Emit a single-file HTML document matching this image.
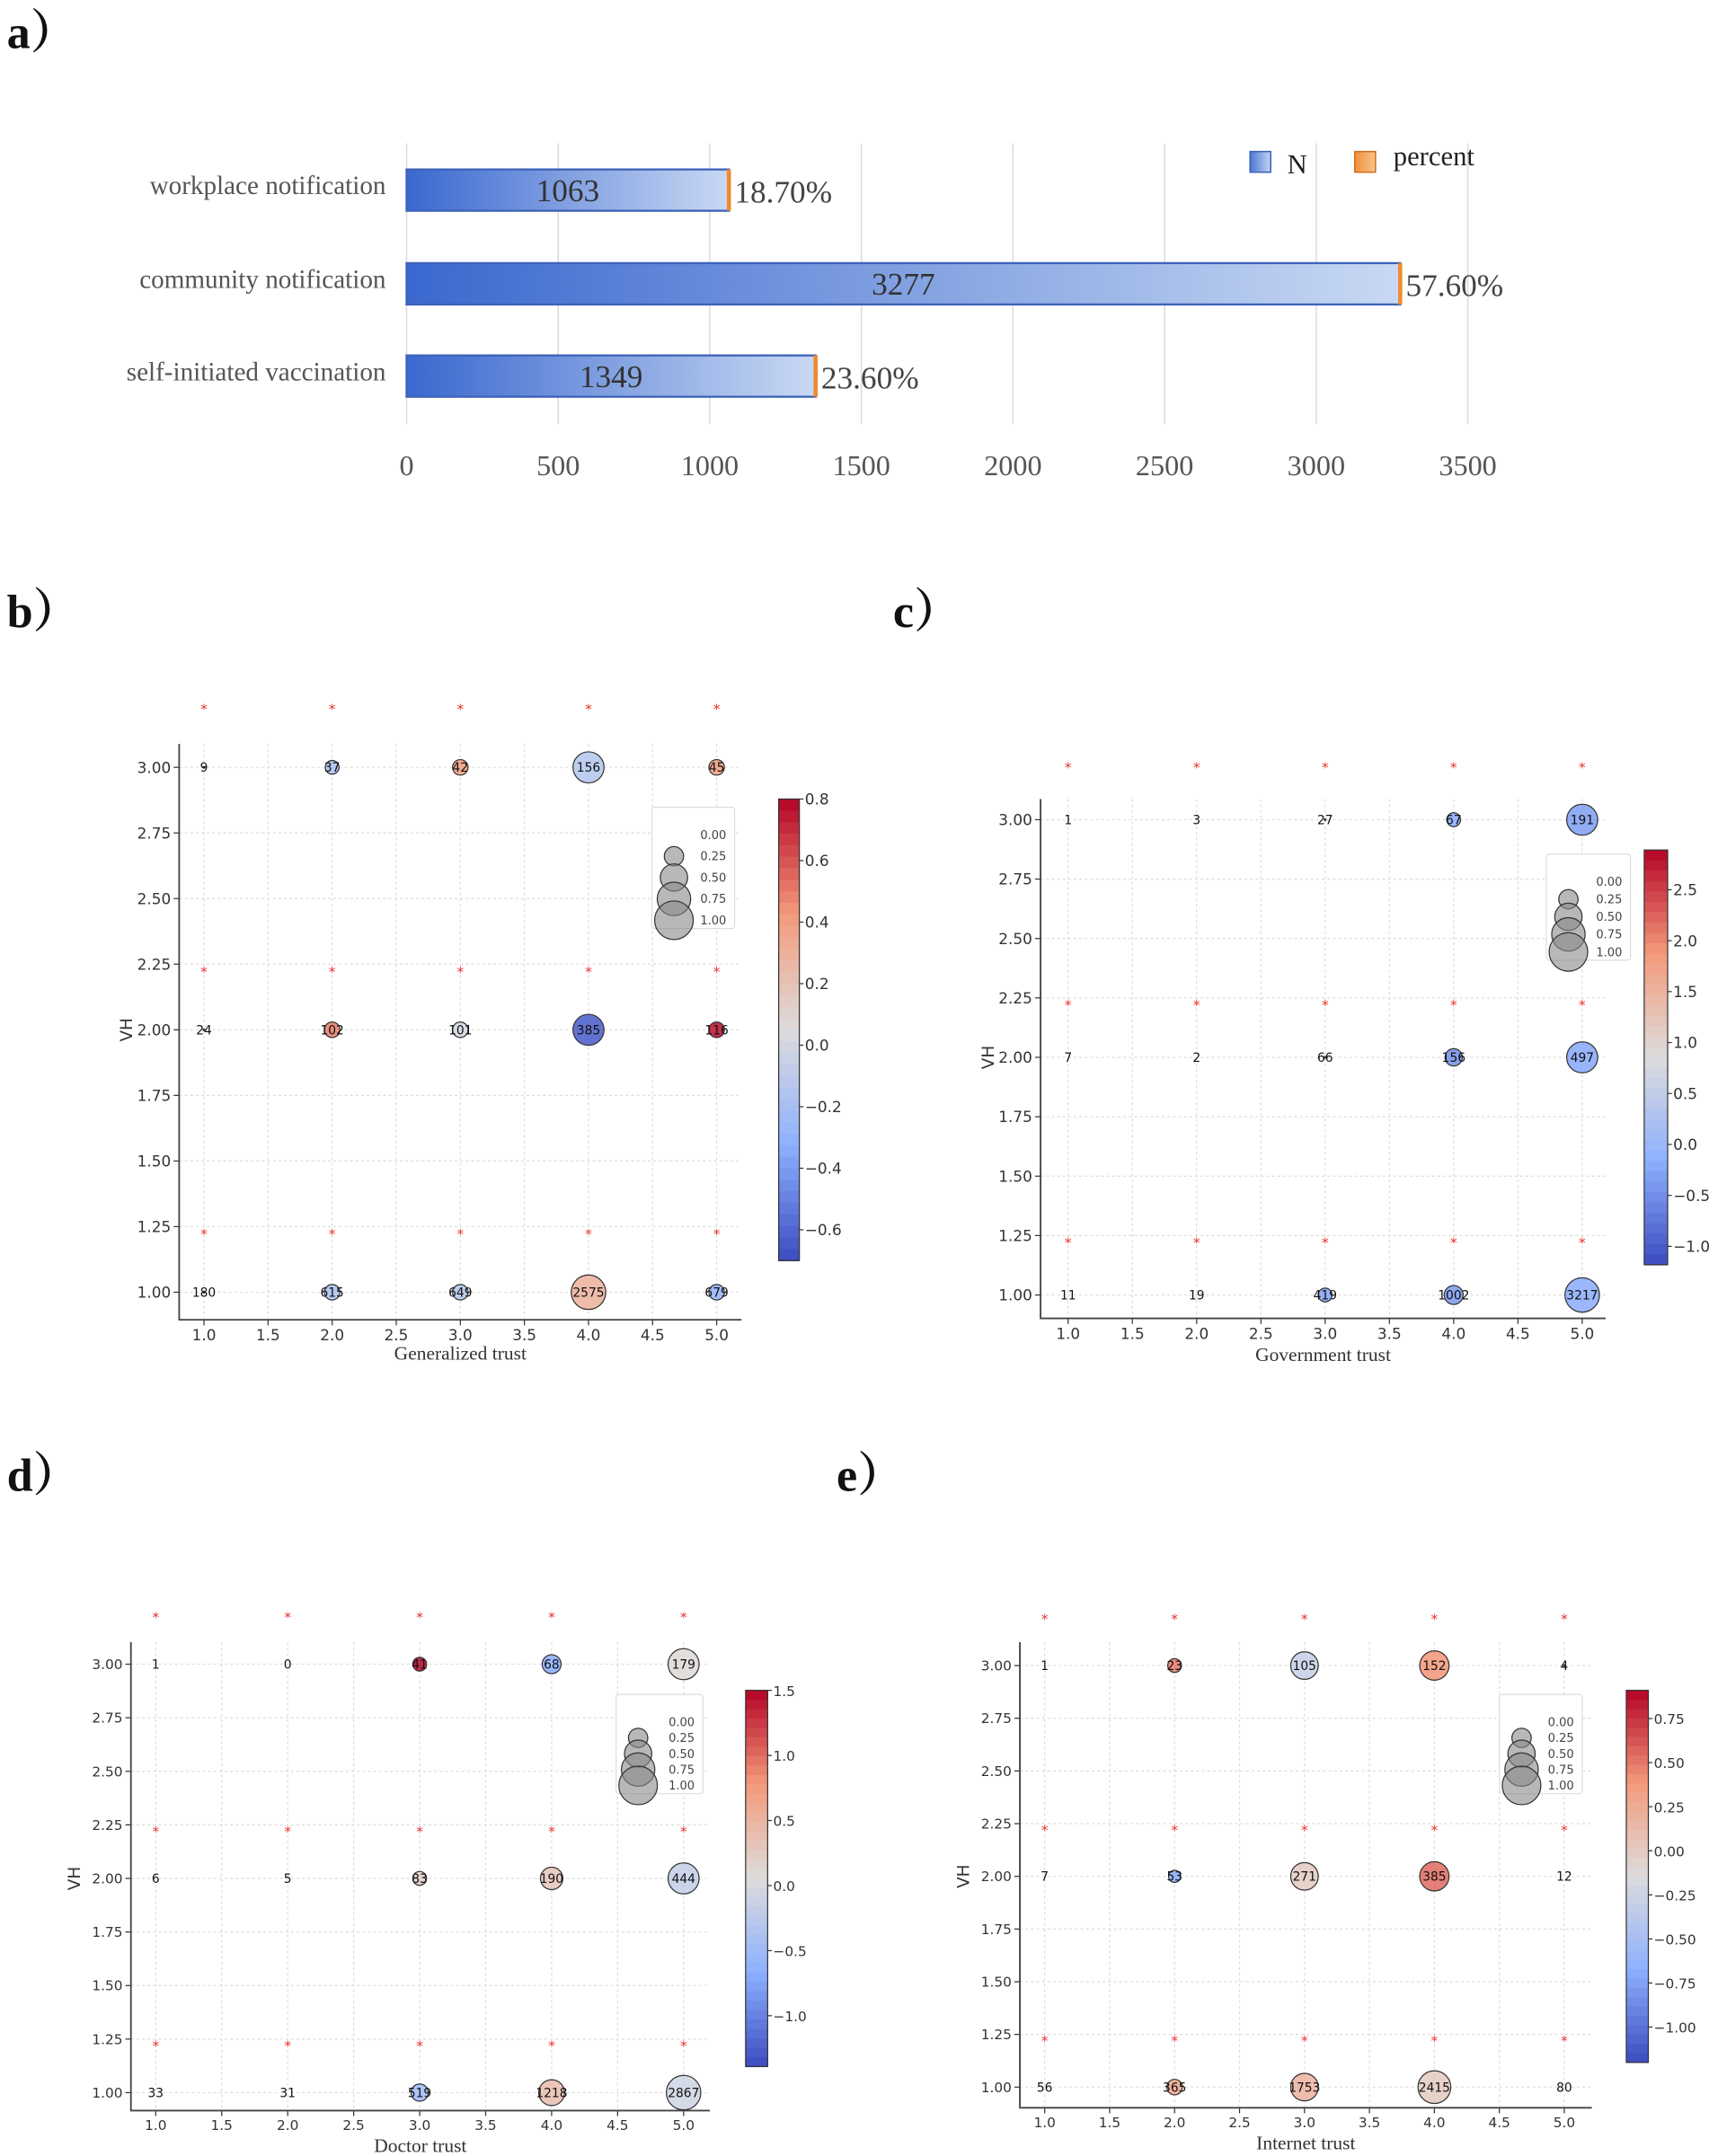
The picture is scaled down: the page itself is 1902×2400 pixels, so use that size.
<!DOCTYPE html>
<html><head><meta charset="utf-8"><style>
html,body{margin:0;padding:0;background:#fff;}
svg{display:block;}
</style></head><body>
<svg id="root" width="1902" height="2400" viewBox="0 0 1240 1565" preserveAspectRatio="none" xmlns="http://www.w3.org/2000/svg">
<defs>
<linearGradient id="barGrad" x1="0" x2="1" y1="0" y2="0"><stop offset="0" stop-color="#3a68cf"/><stop offset="1" stop-color="#c9d9f3"/></linearGradient>
<linearGradient id="legN" x1="0" x2="1"><stop offset="0" stop-color="#4a78d6"/><stop offset="1" stop-color="#c2d4f2"/></linearGradient>
<linearGradient id="legP" x1="0" x2="1"><stop offset="0" stop-color="#f0903a"/><stop offset="1" stop-color="#f9c48c"/></linearGradient>
</defs>
</svg>
<script>
// ---------- Panel a data ----------
const aCategories = ["workplace notification","community notification","self-initiated vaccination"];
const aValues = [1063, 3277, 1349];
const aPercents = ["18.70%","57.60%","23.60%"];
const aTicks = [0,500,1000,1500,2000,2500,3000,3500];

// ---------- Bubble panels data (rows: VH=3,2,1; cols trust=1..5) ----------
const xCats = [1,2,3,4,5];
const yCats = [3,2,1];
const starY = [3.23,2.23,1.23];
const xTickLabels = ["1.0","1.5","2.0","2.5","3.0","3.5","4.0","4.5","5.0"];
const yTickLabels = ["1.00","1.25","1.50","1.75","2.00","2.25","2.50","2.75","3.00"];
const sizeLegendLabels = ["0.00","0.25","0.50","0.75","1.00"];

const bCounts = [[9,37,42,156,45],[24,102,101,385,116],[180,615,649,2575,679]];
const bColors = [[0,-0.2,0.4,-0.15,0.4],[0,0.5,0,-0.65,0.78],[0,-0.2,-0.15,0.3,-0.3]];
const bSizes = [[0.05,0.4,0.45,0.9,0.45],[0.05,0.45,0.45,0.9,0.45],[0.05,0.45,0.45,1,0.45]];
const bCbTicks = [0.8,0.6,0.4,0.2,0.0,-0.2,-0.4,-0.6];

const cCounts = [[1,3,27,67,191],[7,2,66,156,497],[11,19,419,1002,3217]];
const cColors = [[0,0,0,-0.2,-0.35],[0,0,0,-0.5,-0.25],[0,0,-0.3,-0.4,-0.2]];
const cSizes = [[0,0,0.05,0.4,0.9],[0,0,0.05,0.5,0.9],[0,0,0.4,0.55,1]];
const cCbTicks = [2.5,2.0,1.5,1.0,0.5,0.0,-0.5,-1.0];

const dCounts = [[1,0,41,68,179],[6,5,83,190,444],[33,31,519,1218,2867]];
const dColors = [[0,0,1.5,-0.7,0.1],[0,0,0.2,0.3,-0.2],[0,0,-0.5,0.4,-0.1]];
const dSizes = [[0,0,0.4,0.55,0.9],[0,0,0.4,0.65,0.9],[0,0,0.5,0.75,1]];
const dCbTicks = [1.5,1.0,0.5,0.0,-0.5,-1.0];

const eCounts = [[1,23,105,152,4],[7,53,271,385,12],[56,365,1753,2415,80]];
const eColors = [[0,0.5,-0.3,0.4,0],[0,-0.7,0,0.55,0],[0,0.3,0.2,0,0]];
const eSizes = [[0,0.4,0.8,0.85,0.05],[0,0.35,0.8,0.85,0],[0,0.45,0.8,0.95,0]];
const eCbTicks = [0.75,0.5,0.25,0.0,-0.25,-0.5,-0.75,-1.0];

const NS = "http://www.w3.org/2000/svg";
const root = document.getElementById('root');
function mk(tag, attrs, parent){const e=document.createElementNS(NS,tag);for(const k in attrs)e.setAttribute(k,attrs[k]);(parent||root).appendChild(e);return e;}
function txt(s, attrs, parent){const e=mk('text',attrs,parent);e.textContent=s;return e;}

[["a）",5,35],["b）",5,455],["c）",648,455],["d）",5,1082],["e）",607,1082]].forEach(p=>{
  const t=txt(p[0],{x:p[1],y:p[2],'font-family':'Liberation Serif, Noto Serif CJK SC, serif','font-size':34,'font-weight':'bold',fill:'#111'});
  
  
});

(function(){
  const g=mk('g',{});
  
  
  const x=v=>295+v*(770/3500);
  const barY=[123,191,258], barH=30;
  aTicks.forEach(t=>{
    const l=mk('line',{x1:x(t),x2:x(t),y1:104,y2:308,stroke:'#dcdcdc','stroke-width':1},g);
    
    
    const tl=txt(String(t),{x:x(t),y:345,'text-anchor':'middle','font-family':'Liberation Serif, serif','font-size':21,fill:'#555'},g);
    
    
  });
  aValues.forEach((v,i)=>{
    const y=barY[i];
    const r=mk('rect',{x:x(0),y:y,width:x(v)-x(0),height:barH,fill:'url(#barGrad)',stroke:'#3d62b8','stroke-width':1.5},g);
    
    
    const o=mk('rect',{x:x(v)-1.5,y:y,width:3,height:barH,fill:'#f08a30'},g);
    
    
    const vl=txt(String(v),{x:(x(0)+x(v))/2,y:y+23,'text-anchor':'middle','font-family':'Liberation Serif, serif','font-size':23,fill:'#333'},g);
    
    
    const pl=txt(aPercents[i],{x:x(v)+4,y:y+24,'font-family':'Liberation Serif, serif','font-size':23,fill:'#444'},g);
    
    
    const cl=txt(aCategories[i],{x:280,y:y+18,'text-anchor':'end','font-family':'Liberation Serif, serif','font-size':19,fill:'#555'},g);
    
    
  });
  const ln=mk('rect',{x:907,y:110,width:15,height:15,fill:'url(#legN)',stroke:'#3d62b8'},g);
  
  
  const lnt=txt('N',{x:934,y:126,'font-family':'Liberation Serif, serif','font-size':20,fill:'#222'},g);
  
  
  const lp=mk('rect',{x:983,y:110,width:15,height:15,fill:'url(#legP)',stroke:'#d07020'},g);
  
  
  const lpt=txt('percent',{x:1011,y:120,'font-family':'Liberation Serif, serif','font-size':20,fill:'#222'},g);
  
  
})();

const cwStops=[[0,[59,76,192]],[0.25,[141,176,254]],[0.5,[221,220,220]],[0.75,[244,154,123]],[1,[180,4,38]]];
function cw(t){t=Math.max(0,Math.min(1,t));for(let i=1;i<cwStops.length;i++){if(t<=cwStops[i][0]){const a=cwStops[i-1],b=cwStops[i];const f=(t-a[0])/(b[0]-a[0]);const c=a[1].map((v,k)=>Math.round(v+(b[1][k]-v)*f));return 'rgb('+c.join(',')+')';}}return 'rgb(180,4,38)';}

function bubblePanel(id, counts, colors, sizes, cbTicks, geo){
  const g=mk('g',{});
  
  
  const X=v=>geo.x0+(v-1)*(geo.x1-geo.x0)/4;
  const Y=v=>geo.y1+(v-1)*(geo.y3-geo.y1)/2;
  const fs=geo.fs;
  xTickLabels.forEach(s=>{const v=parseFloat(s);
    const l=mk('line',{x1:X(v),x2:X(v),y1:geo.T,y2:geo.B,stroke:'#ddd','stroke-width':0.8,'stroke-dasharray':'2,2'},g);
    
    
    mk('line',{x1:X(v),x2:X(v),y1:geo.B,y2:geo.B+4,stroke:'#333','stroke-width':0.8},g);
    const t=txt(s,{x:X(v),y:geo.B+fs+4,'text-anchor':'middle','font-family':'DejaVu Sans, sans-serif','font-size':fs,fill:'#333'},g);
    
    
  });
  yTickLabels.forEach(s=>{const v=parseFloat(s);
    const l=mk('line',{x1:geo.L,x2:geo.R,y1:Y(v),y2:Y(v),stroke:'#ddd','stroke-width':0.8,'stroke-dasharray':'2,2'},g);
    
    
    mk('line',{x1:geo.L-4,x2:geo.L,y1:Y(v),y2:Y(v),stroke:'#333','stroke-width':0.8},g);
    const t=txt(s,{x:geo.L-6,y:Y(v)+fs*0.36,'text-anchor':'end','font-family':'DejaVu Sans, sans-serif','font-size':fs,fill:'#333'},g);
    
    
  });
  const ax=mk('path',{d:`M${geo.L},${geo.T}V${geo.B}H${geo.R}`,fill:'none',stroke:'#444','stroke-width':1.2},g);
  
  
  starY.forEach(sy=>xCats.forEach(xc=>{
    const s=txt('*',{x:X(xc),y:Y(sy)+5,'text-anchor':'middle','font-family':'DejaVu Sans, sans-serif','font-size':10,fill:'#ee3030'},g);
    
    
  }));
  yCats.forEach((yc,r)=>xCats.forEach((xc,c)=>{
    const t=(colors[r][c]-geo.vmin)/(geo.vmax-geo.vmin);
    const rad=12.5*sizes[r][c];
    if(rad>0.5){
      const b=mk('circle',{cx:X(xc),cy:Y(yc),r:rad,fill:cw(t),'fill-opacity':0.85,stroke:'#333','stroke-width':0.8},g);
      
      
    }
    const l=txt(String(counts[r][c]),{x:X(xc),y:Y(yc)+3.3,'text-anchor':'middle','font-family':'DejaVu Sans, sans-serif','font-size':9,fill:'#111'},g);
    
    
  }));
  const lg=mk('rect',{x:geo.lx,y:geo.ly,width:geo.lw,height:geo.lh,fill:'#fff',stroke:'#ddd','stroke-width':0.8,rx:2},g);
  
  
  sizeLegendLabels.forEach((s,i)=>{
    const yy=geo.ly+20+i*(geo.lh-26)/4;
    const v=parseFloat(s);
    if(v>0){const cc=mk('circle',{cx:geo.lx+16,cy:yy,r:14*Math.sqrt(v),fill:'#888','fill-opacity':0.6,stroke:'#333','stroke-width':0.8},g);
      
      }
    const t=txt(s,{x:geo.lx+geo.lw-6,y:yy+3,'text-anchor':'end','font-family':'DejaVu Sans, sans-serif','font-size':8.5,fill:'#444'},g);
    
    
  });
  const N=40, ch=(geo.cB-geo.cT)/N;
  for(let i=0;i<N;i++){
    mk('rect',{x:geo.cx,y:geo.cT+i*ch,width:geo.cw,height:ch+0.5,fill:cw(1-(i+0.5)/N),stroke:'none'},g);
  }
  const cb=mk('rect',{x:geo.cx,y:geo.cT,width:geo.cw,height:geo.cB-geo.cT,fill:'none',stroke:'#333','stroke-width':0.8},g);
  
  
  cbTicks.forEach(v=>{
    const yy=geo.cB-(v-geo.vmin)/(geo.vmax-geo.vmin)*(geo.cB-geo.cT);
    mk('line',{x1:geo.cx+geo.cw,x2:geo.cx+geo.cw+3,y1:yy,y2:yy,stroke:'#333','stroke-width':0.8},g);
    const lab=(v<0?'\u2212':'')+Math.abs(v).toFixed(geo.dec);
    const t=txt(lab,{x:geo.cx+geo.cw+4,y:yy+4,'font-family':'DejaVu Sans, sans-serif','font-size':fs,fill:'#333'},g);
    
    
  });
  const xl=txt(geo.xlabel,{x:(geo.L+geo.R)/2,y:geo.xly,'text-anchor':'middle','font-family':'Liberation Serif, serif','font-size':14,fill:'#333'},g);
  
  
  const yl=txt('VH',{x:geo.ylx,y:(geo.y1+geo.y3)/2,'text-anchor':'middle','font-family':'DejaVu Sans, sans-serif','font-size':12,fill:'#333',transform:`rotate(-90 ${geo.ylx} ${(geo.y1+geo.y3)/2})`},g);
  
  
}

bubblePanel('b',bCounts,bColors,bSizes,bCbTicks,{x0:148,x1:520,y3:557,y1:938,L:130,R:538,T:540,B:958,fs:11,cx:565,cw:15,cT:580,cB:915,vmin:-0.70,vmax:0.80,dec:1,lx:473,ly:586,lw:60,lh:88,xlabel:'Generalized trust',xly:987,ylx:96});
bubblePanel('c',cCounts,cColors,cSizes,cCbTicks,{x0:775,x1:1148,y3:595,y1:940,L:755,R:1165,T:580,B:957,fs:11,cx:1193,cw:17,cT:617,cB:918,vmin:-1.18,vmax:2.89,dec:1,lx:1122,ly:620,lw:61,lh:77,xlabel:'Government trust',xly:988,ylx:721});
bubblePanel('d',dCounts,dColors,dSizes,dCbTicks,{x0:113,x1:496,y3:1208,y1:1519,L:95,R:515,T:1192,B:1532,fs:10,cx:541,cw:16,cT:1227,cB:1500,vmin:-1.39,vmax:1.5,dec:1,lx:447,ly:1230,lw:63,lh:72,xlabel:'Doctor trust',xly:1562,ylx:58});
bubblePanel('e',eCounts,eColors,eSizes,eCbTicks,{x0:758,x1:1135,y3:1209,y1:1515,L:740,R:1155,T:1192,B:1530,fs:10,cx:1180,cw:16,cT:1227,cB:1497,vmin:-1.20,vmax:0.91,dec:2,lx:1088,ly:1230,lw:60,lh:72,xlabel:'Internet trust',xly:1560,ylx:703});
</script>
</body></html>
